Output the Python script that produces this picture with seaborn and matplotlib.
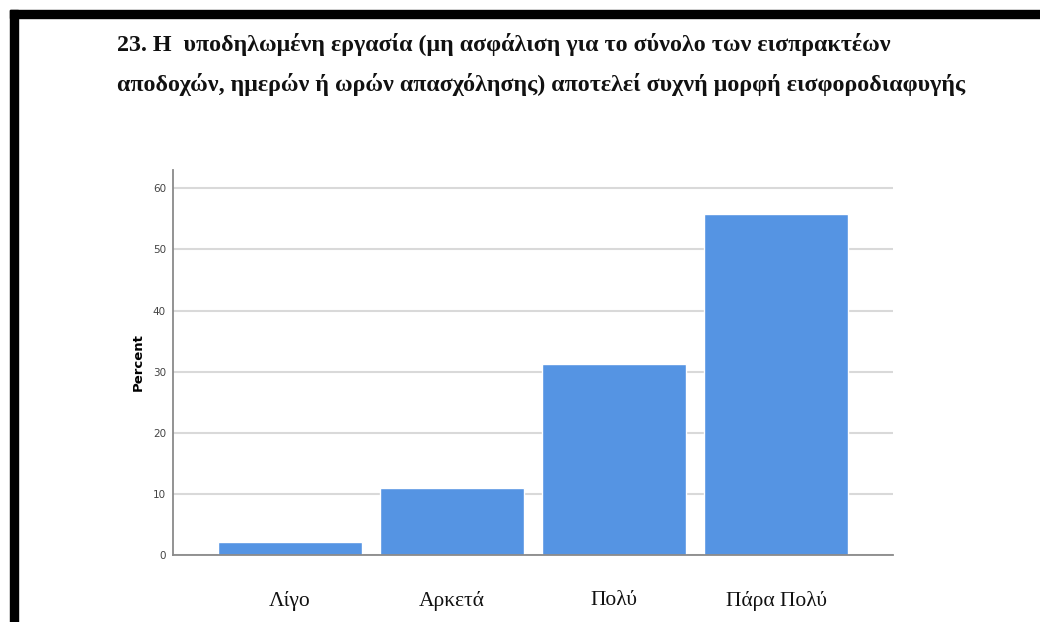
import matplotlib
matplotlib.use("Agg")
import matplotlib.pyplot as plt
from matplotlib.patches import Rectangle
import pandas as pd
import seaborn as sns

sns.set_style("white")

# data
categories = ["Λίγο", "Αρκετά", "Πολύ", "Πάρα Πολύ"]
percent = [2.1, 10.9, 31.3, 55.8]
yticks = [0, 10, 20, 30, 40, 50, 60]
title_lines = [
    "23. Η  υποδηλωμένη εργασία (μη ασφάλιση για το σύνολο των εισπρακτέων",
    "αποδοχών, ημερών ή ωρών απασχόλησης) αποτελεί συχνή μορφή εισφοροδιαφυγής",
]

df = pd.DataFrame({"cat": categories, "pct": percent})

fig = plt.figure(figsize=(10.4, 6.22), dpi=100)
ax = fig.add_axes([173 / 1040, 1 - 555 / 622, 720 / 1040, 385 / 622])

sns.barplot(data=df, x="cat", y="pct", color="#5594E3", saturation=1,
            width=0.89, ax=ax, zorder=3)

ax.set_xlim(-0.72, 3.72)
ax.set_ylim(0, 63)
ax.set_yticks(yticks)
ax.yaxis.grid(True, color="#d9d9d9", linewidth=1.5, zorder=0)
ax.set_axisbelow(True)
for s in ["top", "right"]:
    ax.spines[s].set_visible(False)
for s in ["left", "bottom"]:
    ax.spines[s].set_color("#8a8a8a")
    ax.spines[s].set_linewidth(1.3)
    ax.spines[s].set_zorder(4)

ax.tick_params(axis="y", length=0, pad=5, labelsize=7.5, labelcolor="#444444")
ax.tick_params(axis="x", length=0, pad=26)
for lab in ax.get_xticklabels():
    lab.set_fontfamily("Liberation Serif")
    lab.set_fontsize(15.5)
    lab.set_color("#111111")

ax.set_xlabel("")
ax.set_ylabel("Percent", fontsize=9.5, fontweight="bold", labelpad=6, color="black")

fig.text(117 / 1040, 1 - 44 / 622, title_lines[0], family="Liberation Serif",
         fontsize=17.3, fontweight="bold", va="center", ha="left", color="#111111")
fig.text(117 / 1040, 1 - 85 / 622, title_lines[1], family="Liberation Serif",
         fontsize=17.3, fontweight="bold", va="center", ha="left", color="#111111")

# black frame from the screenshot (top and left edges)
fig.add_artist(Rectangle((10 / 1040, 1 - 18 / 622), 1, 8 / 622,
                         transform=fig.transFigure, color="black"))
fig.add_artist(Rectangle((10 / 1040, 0), 8 / 1040, 1 - 10 / 622,
                         transform=fig.transFigure, color="black"))

fig.savefig("out.png", dpi=100)
